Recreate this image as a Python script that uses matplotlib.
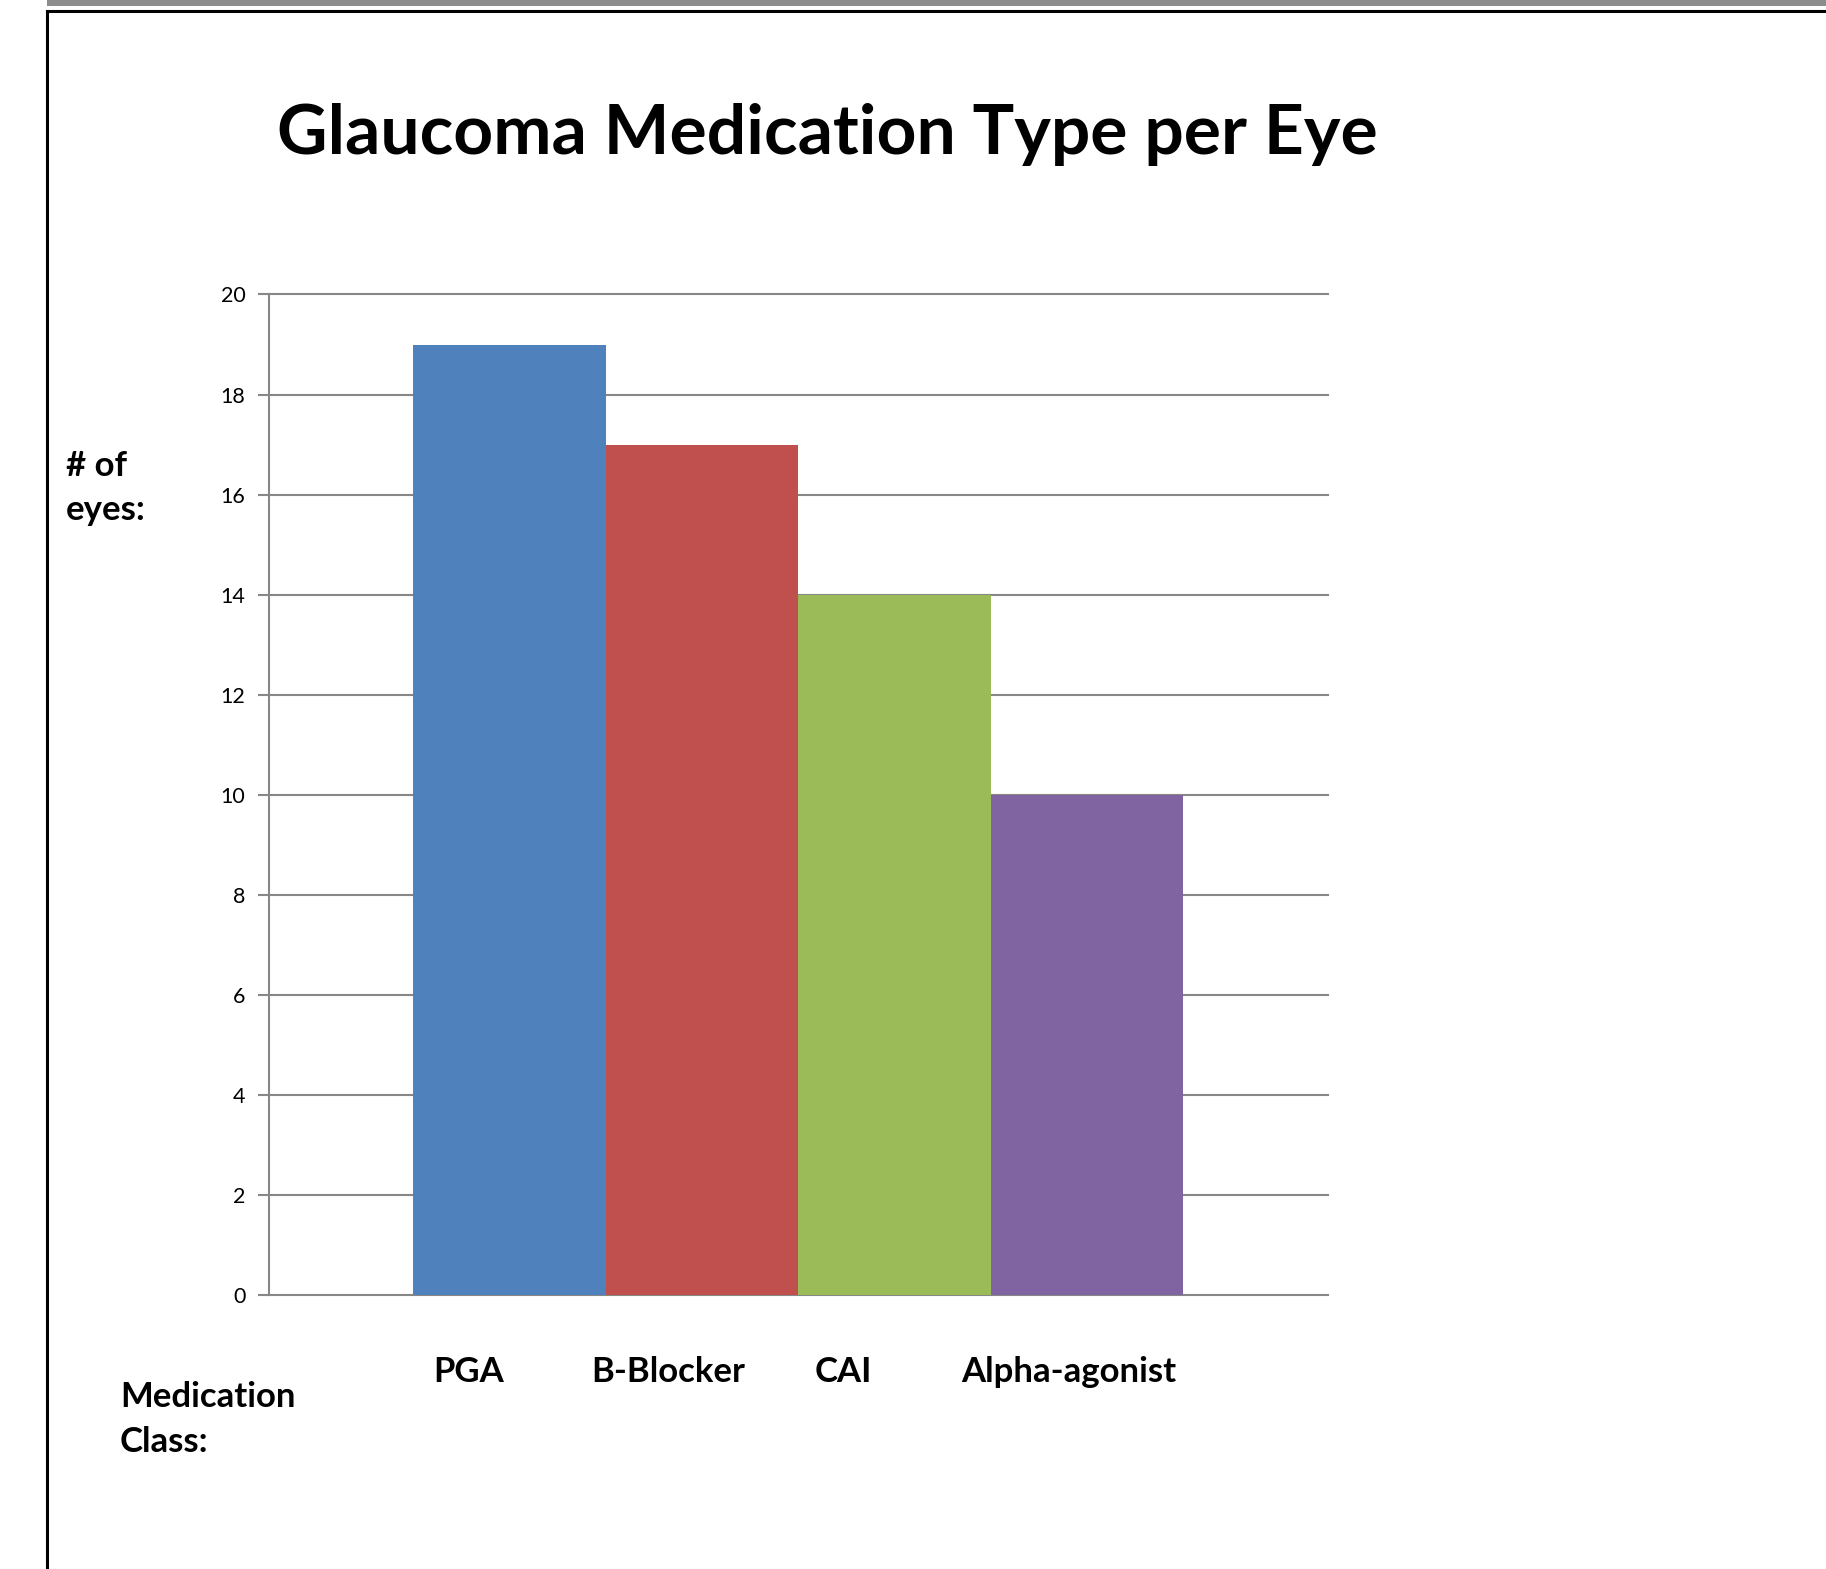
import matplotlib.pyplot as plt
from matplotlib.lines import Line2D
from matplotlib.patches import Rectangle
import numpy as np

# ==========================
# DADOS
# ==========================

categorias = ["PGA", "B-Blocker", "CAI", "Alpha-agonist"]
valores = [19, 17, 14, 10]
cores = ["#4F81BD", "#C0504D", "#9BBB59", "#8064A2"]
y_ticks = [0, 2, 4, 6, 8, 10, 12, 14, 16, 18, 20]

plt.rcParams["font.family"] = ["Lato", "DejaVu Sans"]

W, H = 1826, 1569
fig = plt.figure(figsize=(W / 100, H / 100), dpi=100)

# ==========================
# MOLDURA
# ==========================

fig.add_artist(Rectangle((47 / W, 1 - 6 / H), 1 - 47 / W, 6 / H,
                         transform=fig.transFigure, color="#8C8C8C", lw=0))
fig.add_artist(Line2D([47 / W, 1], [1 - 11 / H, 1 - 11 / H],
                      transform=fig.transFigure, color="black", lw=2.2))
fig.add_artist(Line2D([47 / W, 47 / W], [0, 1 - 11 / H],
                      transform=fig.transFigure, color="black", lw=2.2))

# ==========================
# EIXOS
# ==========================

ax = fig.add_axes([269 / W, 1 - 1295 / H, (1327.5 - 269) / W, (1295 - 294.5) / H])

n = len(valores)
pos = np.arange(n) - (n - 1) / 2
ax.bar(pos, valores, width=1.0, color=cores, zorder=3)

ax.set_xlim(-2.75, 2.75)
ax.set_ylim(0, 20)
ax.set_yticks(y_ticks)
ax.set_xticks([])
ax.yaxis.grid(True, color="#878787", lw=1.5, zorder=0)
ax.set_axisbelow(True)
for gl in ax.get_ygridlines():
    gl.set_clip_on(False)

for s in ["top", "right", "bottom"]:
    ax.spines[s].set_visible(False)
ax.spines["left"].set_color("#878787")
ax.spines["left"].set_linewidth(1.5)
ax.tick_params(axis="y", length=8, width=1.5, color="#878787",
               labelsize=15.5, pad=9)

# ==========================
# TEXTOS
# ==========================

fig.text(827 / W, 1 - 134 / H, "Glaucoma Medication Type per Eye",
         ha="center", va="center", fontsize=50, fontweight="bold")

fig.text(66 / W, 1 - 466 / H, "# of", ha="left", va="center",
         fontsize=25, fontweight="bold")
fig.text(66 / W, 1 - 510 / H, "eyes:", ha="left", va="center",
         fontsize=25, fontweight="bold")

fig.text(120 / W, 1 - 1397 / H, "Medication", ha="left", va="center",
         fontsize=25, fontweight="bold")
fig.text(120 / W, 1 - 1442 / H, "Class:", ha="left", va="center",
         fontsize=25, fontweight="bold")

label_x = [469, 668, 843, 1069]
for nome, x in zip(categorias, label_x):
    fig.text(x / W, 1 - 1372 / H, nome, ha="center", va="center",
             fontsize=25, fontweight="bold")

fig.savefig("out.png", dpi=100)
